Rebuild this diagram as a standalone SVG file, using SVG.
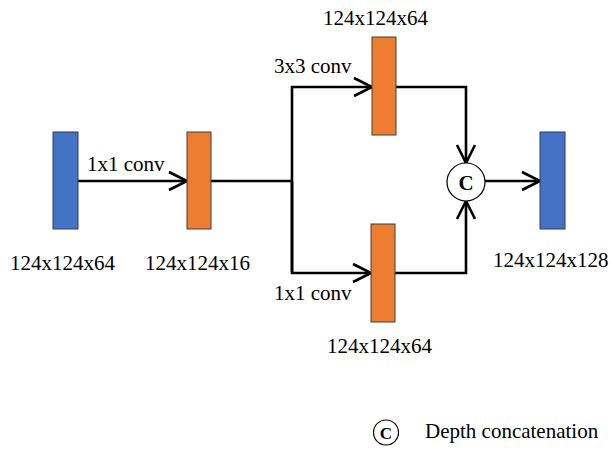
<svg xmlns="http://www.w3.org/2000/svg" width="611" height="452" viewBox="0 0 611 452">
<style>
.t{font-family:"Liberation Serif","Times New Roman",serif;font-size:21px;fill:#000}
.b{fill:#4472C4;stroke:#2F3F5F;stroke-width:1}
.o{fill:#ED7D31;stroke:#3F3F3F;stroke-width:1}
.w{fill:none;stroke:#000;stroke-width:2.6}
.c{font-family:"Liberation Serif","Times New Roman",serif;font-weight:bold;fill:#000}
</style>
<defs>
<marker id="ah" markerUnits="userSpaceOnUse" viewBox="0 0 22 22" refX="20" refY="11" markerWidth="22" markerHeight="22" orient="auto" overflow="visible">
<path d="M2,2 L20,11 L2,20" fill="none" stroke="#000" stroke-width="2.6"/>
</marker>
</defs>
<rect width="611" height="452" fill="#fff"/>
<g id="connectors">
<line class="w" x1="78" y1="181" x2="187" y2="181" marker-end="url(#ah)"/>
<polyline class="w" points="211,181 292,181"/>
<polyline class="w" points="292,272 292,87 372,87" marker-end="url(#ah)"/>
<polyline class="w" points="292,181 292,273 371,273" marker-end="url(#ah)"/>
<polyline class="w" points="396,87 466,87 466,163" marker-end="url(#ah)"/>
<polyline class="w" points="395,273 466,273 466,201" marker-end="url(#ah)"/>
<line class="w" x1="485" y1="181" x2="540" y2="181" marker-end="url(#ah)"/>
<text class="t" x="87" y="171">1x1 conv</text>
<text class="t" x="274" y="73">3x3 conv</text>
<text class="t" x="274" y="300">1x1 conv</text>
</g>
<g id="input">
<rect class="b" x="53" y="132" width="25" height="97"/>
<text class="t" x="10" y="270">124x124x64</text>
</g>
<g id="reduce">
<rect class="o" x="187" y="132" width="24" height="97"/>
<text class="t" x="145" y="270">124x124x16</text>
</g>
<g id="conv3x3">
<rect class="o" x="372" y="37" width="24" height="98"/>
<text class="t" x="323" y="25">124x124x64</text>
</g>
<g id="conv1x1">
<rect class="o" x="371" y="224" width="24" height="98"/>
<text class="t" x="327" y="353">124x124x64</text>
</g>
<g id="concat">
<circle cx="466" cy="182" r="19" fill="#fff" stroke="#000" stroke-width="1.2"/>
<text class="c" x="466" y="189.5" font-size="21" text-anchor="middle">C</text>
</g>
<g id="output">
<rect class="b" x="540" y="132" width="25" height="97"/>
<text class="t" x="493" y="267">124x124x128</text>
</g>
<g id="legend">
<circle cx="386" cy="432.5" r="12.5" fill="#fff" stroke="#000" stroke-width="1.2"/>
<text class="c" x="386" y="438.5" font-size="17" text-anchor="middle">C</text>
<text class="t" x="425" y="438">Depth concatenation</text>
</g>
</svg>
